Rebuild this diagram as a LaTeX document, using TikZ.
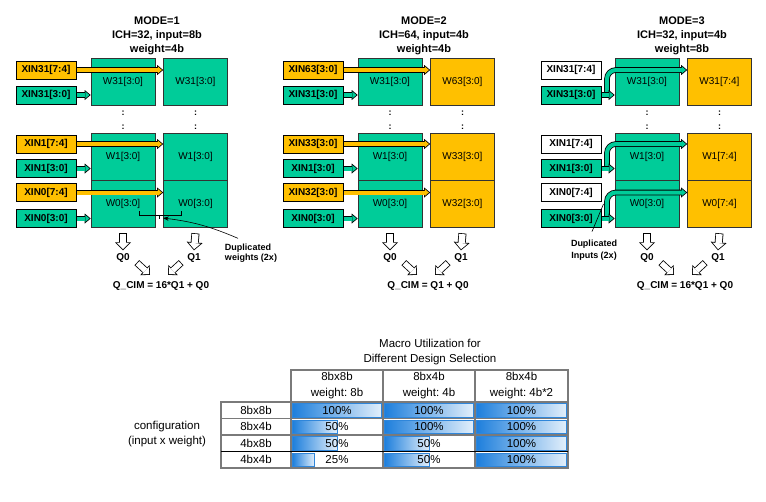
\documentclass[tikz,border=0pt]{standalone}
\usepackage{fontspec}
\setmainfont{Liberation Sans}
\usepackage{tikz}
\usetikzlibrary{arrows.meta, calc}
\definecolor{cimgreen}{HTML}{00CC99}
\definecolor{cimyellow}{HTML}{FFC000}
\definecolor{barblue}{HTML}{1E7FDC}
\definecolor{barlight}{HTML}{E2EFFB}
\definecolor{barline}{HTML}{2F86DA}
\definecolor{gridgray}{HTML}{7A7A7A}
\frenchspacing

\begin{document}
\begin{tikzpicture}[x=1pt, y=-1pt, >=Stealth,
    font=\fontsize{10}{12}\selectfont,
    title/.style={align=center, font=\bfseries\fontsize{11}{14}\selectfont},
    inbox/.style={draw, line width=0.9pt, minimum width=60pt, minimum height=18pt, inner sep=0pt, font=\bfseries\fontsize{10}{12}\selectfont},
    wblock/.style={draw=black!80, line width=0.6pt, minimum width=64pt, minimum height=47pt, inner sep=0pt},
    dots/.style={align=center, inner sep=0pt, font=\bfseries\fontsize{9}{14}\selectfont},
    qlabel/.style={inner sep=1pt, font=\bfseries\fontsize{10}{12}\selectfont},
    note/.style={align=left, inner sep=0pt, font=\bfseries\fontsize{9}{10.5}\selectfont},
    busarrow/.style={line width=4pt, draw=#1, shorten <=0.8pt, shorten >=1.25pt,
        -{Triangle[length=4pt, width=6.6pt, line width=0pt, fill=#1]},
        preaction={draw=black, line width=5.6pt, shorten <=0pt, shorten >=0pt,
            -{Triangle[length=6pt, width=10pt, line width=0pt, fill=black]}}},
    qarrow/.style={line width=6.4pt, draw=white, shorten <=0.8pt, shorten >=1.13pt,
        -{Triangle[length=6.07pt, width=12.1pt, line width=0pt, fill=white]},
        preaction={draw=black, line width=8pt, shorten <=0pt, shorten >=0pt,
            -{Triangle[length=8pt, width=16pt, line width=0pt, fill=black]}}},
    darrow/.style={line width=5.4pt, draw=white, shorten <=0.8pt, shorten >=1.13pt,
        -{Triangle[length=5.07pt, width=10.1pt, line width=0pt, fill=white]},
        preaction={draw=black, line width=7pt, shorten <=0pt, shorten >=0pt,
            -{Triangle[length=7pt, width=14pt, line width=0pt, fill=black]}}},
    tbl/.style={align=center, inner sep=0pt, font=\fontsize{11.5}{15}\selectfont},
    bar/.style={draw=barline, line width=0.6pt, left color=barblue, right color=barlight},
    grid/.style={draw=gridgray, line width=1.1pt}]

\useasboundingbox (0,0) rectangle (766,501);

% ---------------- MODE 1
\node[title] (m1title) at (157,36) {MODE=1\\ICH=32, input=8b\\weight=4b};
\node[wblock, fill=cimgreen] (m1w31) at (123,81.5) {W31[3:0]};
\node[wblock, fill=cimgreen] (m1v31) at (195.5,81.5) {W31[3:0]};
\node[wblock, fill=cimgreen] (m1w1) at (123,156.5) {W1[3:0]};
\node[wblock, fill=cimgreen] (m1v1) at (195.5,156.5) {W1[3:0]};
\node[wblock, fill=cimgreen] (m1w0) at (123,203.5) {W0[3:0]};
\node[wblock, fill=cimgreen] (m1v0) at (195.5,203.5) {W0[3:0]};
\node[dots] (m1dl) at (123,120) {:\\:};
\node[dots] (m1dr) at (195.5,120) {:\\:};

\node[inbox, fill=cimyellow] (m1x31h) at (46,70) {XIN31[7:4]};
\node[inbox, fill=cimgreen] (m1x31l) at (46,95) {XIN31[3:0]};
\node[inbox, fill=cimyellow] (m1x1h) at (46,144) {XIN1[7:4]};
\node[inbox, fill=cimgreen] (m1x1l) at (46,168.5) {XIN1[3:0]};
\node[inbox, fill=cimyellow] (m1x0h) at (46,192.5) {XIN0[7:4]};
\node[inbox, fill=cimgreen] (m1x0l) at (46,218.5) {XIN0[3:0]};

\draw[busarrow=cimyellow] (m1x31h.east) -- (m1x31h.east -| m1v31.west);
\draw[busarrow=cimgreen] (m1x31l.east) -- (m1x31l.east -| m1w31.west);
\draw[busarrow=cimyellow] (m1x1h.east) -- (m1x1h.east -| m1v1.west);
\draw[busarrow=cimgreen] (m1x1l.east) -- (m1x1l.east -| m1w1.west);
\draw[busarrow=cimyellow] (m1x0h.east) -- (m1x0h.east -| m1v0.west);
\draw[busarrow=cimgreen] (m1x0l.east) -- (m1x0l.east -| m1w0.west);

% duplicated weights
\draw[line width=0.6pt] (139,211) -- (139,215.5) -- (181,215.5) -- (181,211);
\draw[line width=0.6pt] (159.5,215.5) -- (159.5,219);
\node[note] (m1dupl) at (251,253) {Duplicated\\weights (2x)};
\coordinate (m1dup) at (163,218);
\draw[->, line width=0.6pt] ([xshift=-13pt,yshift=5pt]m1dupl.north) to[bend right=8] (m1dup);

\node[qlabel] (m1q0) at (123,258) {Q0};
\node[qlabel] (m1q1) at (194,258) {Q1};
\node[qlabel] (m1cim) at (161,286) {Q\_CIM = 16*Q1 + Q0};
\draw[qarrow] ([yshift=-6pt]m1w0.south) -- ([yshift=2pt]m1q0.north);
\draw[qarrow] ([yshift=-6pt]m1v0.south) -- ([yshift=2pt]m1q1.north);
\draw[darrow] ([xshift=6pt,yshift=1pt]m1q0.south east) -- ([xshift=-11pt,yshift=5.5pt]m1cim.north);
\draw[darrow] ([xshift=-5pt,yshift=1pt]m1q1.south west) -- ([xshift=7pt,yshift=5.5pt]m1cim.north);

% ---------------- MODE 2
\begin{scope}[xshift=267pt]
\node[title] (m2title) at (157,36) {MODE=2\\ICH=64, input=4b\\weight=4b};
\node[wblock, fill=cimgreen] (m2w31) at (123,81.5) {W31[3:0]};
\node[wblock, fill=cimyellow] (m2v31) at (195.5,81.5) {W63[3:0]};
\node[wblock, fill=cimgreen] (m2w1) at (123,156.5) {W1[3:0]};
\node[wblock, fill=cimyellow] (m2v1) at (195.5,156.5) {W33[3:0]};
\node[wblock, fill=cimgreen] (m2w0) at (123,203.5) {W0[3:0]};
\node[wblock, fill=cimyellow] (m2v0) at (195.5,203.5) {W32[3:0]};
\node[dots] (m2dl) at (123,120) {:\\:};
\node[dots] (m2dr) at (195.5,120) {:\\:};

\node[inbox, fill=cimyellow] (m2x31h) at (46,70) {XIN63[3:0]};
\node[inbox, fill=cimgreen] (m2x31l) at (46,95) {XIN31[3:0]};
\node[inbox, fill=cimyellow] (m2x1h) at (46,144) {XIN33[3:0]};
\node[inbox, fill=cimgreen] (m2x1l) at (46,168.5) {XIN1[3:0]};
\node[inbox, fill=cimyellow] (m2x0h) at (46,192.5) {XIN32[3:0]};
\node[inbox, fill=cimgreen] (m2x0l) at (46,218.5) {XIN0[3:0]};

\draw[busarrow=cimyellow] (m2x31h.east) -- (m2x31h.east -| m2v31.west);
\draw[busarrow=cimgreen] (m2x31l.east) -- (m2x31l.east -| m2w31.west);
\draw[busarrow=cimyellow] (m2x1h.east) -- (m2x1h.east -| m2v1.west);
\draw[busarrow=cimgreen] (m2x1l.east) -- (m2x1l.east -| m2w1.west);
\draw[busarrow=cimyellow] (m2x0h.east) -- (m2x0h.east -| m2v0.west);
\draw[busarrow=cimgreen] (m2x0l.east) -- (m2x0l.east -| m2w0.west);

\node[qlabel] (m2q0) at (123,258) {Q0};
\node[qlabel] (m2q1) at (194,258) {Q1};
\node[qlabel] (m2cim) at (161,286) {Q\_CIM = Q1 + Q0};
\draw[qarrow] ([yshift=-6pt]m2w0.south) -- ([yshift=2pt]m2q0.north);
\draw[qarrow] ([yshift=-6pt]m2v0.south) -- ([yshift=2pt]m2q1.north);
\draw[darrow] ([xshift=6pt,yshift=1pt]m2q0.south east) -- ([xshift=-11pt,yshift=5.5pt]m2cim.north);
\draw[darrow] ([xshift=-5pt,yshift=1pt]m2q1.south west) -- ([xshift=7pt,yshift=5.5pt]m2cim.north);
\end{scope}

% ---------------- MODE 3
\begin{scope}[xshift=525pt]
\node[title] (m3title) at (157,36) {MODE=3\\ICH=32, input=4b\\weight=8b};
\node[wblock, fill=cimgreen] (m3w31) at (122,81.5) {W31[3:0]};
\node[wblock, fill=cimyellow] (m3v31) at (194.5,81.5) {W31[7:4]};
\node[wblock, fill=cimgreen] (m3w1) at (122,156.5) {W1[3:0]};
\node[wblock, fill=cimyellow] (m3v1) at (194.5,156.5) {W1[7:4]};
\node[wblock, fill=cimgreen] (m3w0) at (122,203.5) {W0[3:0]};
\node[wblock, fill=cimyellow] (m3v0) at (194.5,203.5) {W0[7:4]};
\node[dots] (m3dl) at (122,120) {:\\:};
\node[dots] (m3dr) at (194.5,120) {:\\:};

\node[inbox, fill=white] (m3x31h) at (46,70) {XIN31[7:4]};
\node[inbox, fill=cimgreen] (m3x31l) at (46,95) {XIN31[3:0]};
\node[inbox, fill=white] (m3x1h) at (46,144) {XIN1[7:4]};
\node[inbox, fill=cimgreen] (m3x1l) at (46,168.5) {XIN1[3:0]};
\node[inbox, fill=white] (m3x0h) at (46,192.5) {XIN0[7:4]};
\node[inbox, fill=cimgreen] (m3x0l) at (46,218.5) {XIN0[3:0]};

\draw[busarrow=cimgreen, rounded corners=9pt] ([xshift=5.5pt]m3x31l.east) |- (m3x31h.east -| m3v31.west);
\draw[busarrow=cimgreen] (m3x31l.east) -- (m3x31l.east -| m3w31.west);
\draw[busarrow=cimgreen, rounded corners=9pt] ([xshift=5.5pt]m3x1l.east) |- (m3x1h.east -| m3v1.west);
\draw[busarrow=cimgreen] (m3x1l.east) -- (m3x1l.east -| m3w1.west);
\draw[busarrow=cimgreen, rounded corners=9pt] ([xshift=5.5pt]m3x0l.east) |- (m3x0h.east -| m3v0.west);
\draw[busarrow=cimgreen] (m3x0l.east) -- (m3x0l.east -| m3w0.west);

% duplicated inputs
\node[note, align=center, font=\bfseries\fontsize{9}{12}\selectfont] (m3dupl) at (69,250) {Duplicated\\Inputs (2x)};
\coordinate (m3dup) at (78.5,204);
\draw[line width=0.6pt] ([xshift=-2pt,yshift=8pt]m3dupl.north) -- (m3dup);

\node[qlabel] (m3q0) at (122,258) {Q0};
\node[qlabel] (m3q1) at (193,258) {Q1};
\node[qlabel] (m3cim) at (160,286) {Q\_CIM = 16*Q1 + Q0};
\draw[qarrow] ([yshift=-6pt]m3w0.south) -- ([yshift=2pt]m3q0.north);
\draw[qarrow] ([yshift=-6pt]m3v0.south) -- ([yshift=2pt]m3q1.north);
\draw[darrow] ([xshift=6pt,yshift=1pt]m3q0.south east) -- ([xshift=-11pt,yshift=5.5pt]m3cim.north);
\draw[darrow] ([xshift=-5pt,yshift=1pt]m3q1.south west) -- ([xshift=7pt,yshift=5.5pt]m3cim.north);
\end{scope}

% ---------------- utilization table
\node[tbl] (ttitle) at (430,352.5) {Macro Utilization for\\Different Design Selection};
\node[tbl, font=\fontsize{11.5}{16}\selectfont] (th1) at (337,386) {8bx8b\\weight: 8b};
\node[tbl, font=\fontsize{11.5}{16}\selectfont] (th2) at (429,386) {8bx4b\\weight: 4b};
\node[tbl, font=\fontsize{11.5}{16}\selectfont] (th3) at (521.5,386) {8bx4b\\weight: 4b*2};
\node[tbl] (cfg) at (167,434.5) {configuration\\(input x weight)};

% bars
\path[bar] (292.5,403.5) rectangle (381.5,417);
\path[bar] (384.5,403.5) rectangle (473.5,417);
\path[bar] (476.5,403.5) rectangle (566.5,417);
\path[bar] (292.5,420) rectangle (337,433.5);
\path[bar] (384.5,420) rectangle (473.5,433.5);
\path[bar] (476.5,420) rectangle (566.5,433.5);
\path[bar] (292.5,436.5) rectangle (337,450);
\path[bar] (384.5,436.5) rectangle (429,450);
\path[bar] (476.5,436.5) rectangle (566.5,450);
\path[bar] (292.5,453) rectangle (314.5,466.5);
\path[bar] (384.5,453) rectangle (429,466.5);
\path[bar] (476.5,453) rectangle (566.5,466.5);

% grid
\draw[grid] (291,370) rectangle (568,468);
\draw[grid] (383,370) -- (383,468) (475,370) -- (475,468);
\draw[grid] (221,402) rectangle (291,468);
\draw[grid] (221,402) -- (568,402) (221,418.5) -- (568,418.5) (221,435) -- (568,435);
\draw[line width=1.1pt] (221,451.5) -- (568,451.5);

% row labels and values
\node[tbl] (r1) at (256,410.25) {8bx8b};
\node[tbl] (r2) at (256,426.75) {8bx4b};
\node[tbl] (r3) at (256,443.25) {4bx8b};
\node[tbl] (r4) at (256,459.75) {4bx4b};
\node[tbl] (v11) at (337,410.25) {100\%};
\node[tbl] (v12) at (429,410.25) {100\%};
\node[tbl] (v13) at (521.5,410.25) {100\%};
\node[tbl] (v21) at (337,426.75) {50\%};
\node[tbl] (v22) at (429,426.75) {100\%};
\node[tbl] (v23) at (521.5,426.75) {100\%};
\node[tbl] (v31) at (337,443.25) {50\%};
\node[tbl] (v32) at (429,443.25) {50\%};
\node[tbl] (v33) at (521.5,443.25) {100\%};
\node[tbl] (v41) at (337,459.75) {25\%};
\node[tbl] (v42) at (429,459.75) {50\%};
\node[tbl] (v43) at (521.5,459.75) {100\%};
\end{tikzpicture}
\end{document}
